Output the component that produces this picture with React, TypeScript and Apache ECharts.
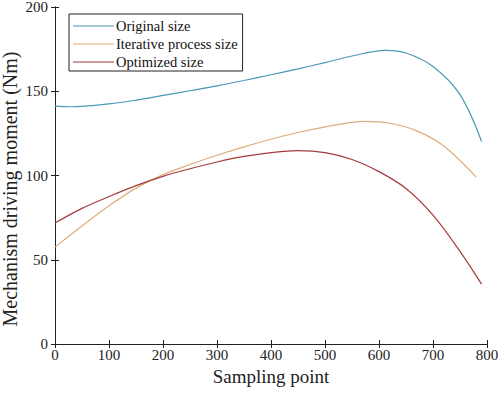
import React, { useEffect, useRef } from "react";
import * as echarts from "echarts";

const xOriginal = [0, 30, 100, 150, 200, 250, 300, 350, 400, 450, 500, 550, 612, 650, 700, 750, 790];
const yOriginal = [141.2, 140.8, 142.5, 144.7, 147.5, 150.3, 153.2, 156.4, 159.8, 163.3, 167.0, 170.9, 174.3, 172.7, 164.7, 148.0, 120.2];

const xIterative = [0, 50, 100, 150, 200, 250, 300, 350, 400, 450, 520, 572, 620, 670, 720, 780];
const yIterative = [57.5, 70, 82, 92.5, 100.5, 106.5, 112, 117, 121.5, 125.5, 130, 132.1, 131.0, 126.5, 117.5, 99];

const xOptimized = [0, 50, 100, 150, 200, 250, 300, 350, 400, 450, 500, 550, 600, 650, 700, 750, 790];
const yOptimized = [71.8, 80.5, 87.5, 94, 99.5, 104, 108, 111.3, 113.6, 114.8, 113.6, 109.5, 102.3, 92.3, 76.5, 55, 35.5];

const seriesNames = ["Original size", "Iterative process size", "Optimized size"];
const seriesColors = ["#4a98b6", "#dcae7a", "#a63a3c"];

const xTicks = { min: 0, max: 800, interval: 100 };
const yTicks = { min: 0, max: 200, interval: 50 };

const xTitle = "Sampling point";
const yTitle = "Mechanism driving moment (Nm)";

const FONT = "Liberation Serif";

function zip(xs: number[], ys: number[]) {
  return xs.map((x, i) => [x, ys[i]]);
}

export default function App() {
  const ref = useRef<HTMLDivElement>(null);
  useEffect(() => {
    if (!ref.current) return;
    const chart = echarts.init(ref.current, undefined, { renderer: "svg" });
    const axisLine = { show: true, lineStyle: { color: "#222", width: 1 } };
    const axisTick = { show: true, inside: true, length: 4, lineStyle: { color: "#222", width: 1 } };
    const datasets = [zip(xOriginal, yOriginal), zip(xIterative, yIterative), zip(xOptimized, yOptimized)];
    chart.setOption({
      animation: false,
      backgroundColor: "#fff",
      textStyle: { fontFamily: FONT },
      grid: { left: 55, right: 13, top: 7, bottom: 51, containLabel: false, outerBoundsMode: "none" },
      legend: {
        orient: "vertical",
        left: 69,
        top: 14,
        data: seriesNames,
        icon: "rect",
        itemWidth: 41,
        itemHeight: 1.2,
        itemGap: 0,
        padding: [3, 5, 0, 4],
        borderColor: "#222",
        borderWidth: 1,
        backgroundColor: "#fff",
        textStyle: { fontFamily: FONT, fontSize: 14.5, color: "#111", lineHeight: 18, padding: [0, 0, 0, -3] },
      },
      graphic: [
        {
          type: "text",
          x: 10,
          y: 189,
          rotation: Math.PI / 2,
          style: {
            text: yTitle,
            fill: "#222",
            font: `20px ${FONT}`,
            align: "center",
            verticalAlign: "middle",
          },
        },
      ],
      xAxis: [
        {
          type: "value",
          ...xTicks,
          position: "bottom",
          axisLine,
          axisTick,
          splitLine: { show: false },
          axisLabel: { margin: 3, fontFamily: FONT, fontSize: 15, color: "#222" },
          name: xTitle,
          nameLocation: "middle",
          nameGap: 20,
          nameTextStyle: { fontFamily: FONT, fontSize: 19, color: "#222" },
        },
        {
          type: "value",
          ...xTicks,
          position: "top",
          axisLine,
          axisTick,
          splitLine: { show: false },
          axisLabel: { show: false },
        },
      ],
      yAxis: [
        {
          type: "value",
          ...yTicks,
          position: "left",
          axisLine,
          axisTick,
          splitLine: { show: false },
          axisLabel: { margin: 7, fontFamily: FONT, fontSize: 15, color: "#222" },
        },
        {
          type: "value",
          ...yTicks,
          position: "right",
          axisLine,
          axisTick,
          splitLine: { show: false },
          axisLabel: { show: false },
        },
      ],
      series: seriesNames.map((name, i) => ({
        name,
        type: "line",
        xAxisIndex: 0,
        yAxisIndex: 0,
        data: datasets[i],
        smooth: 0.35,
        showSymbol: false,
        symbol: "none",
        lineStyle: { color: seriesColors[i], width: 1.2 },
        itemStyle: { color: seriesColors[i] },
      })),
    });
    return () => chart.dispose();
  }, []);
  return <div ref={ref} style={{ width: 500, height: 395, position: "absolute", left: 0, top: 0 }} />;
}
